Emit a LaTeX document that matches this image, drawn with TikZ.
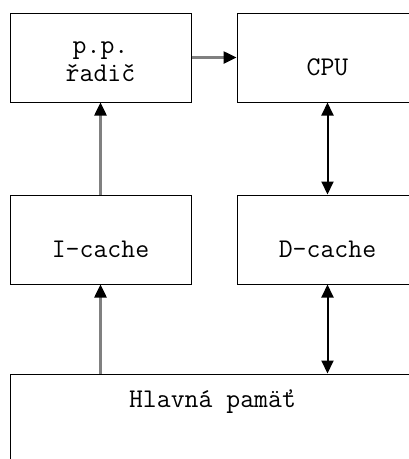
\documentclass[tikz,border=0pt]{standalone}
\usepackage{fontspec}
\usetikzlibrary{shapes.geometric, arrows.meta, positioning}

\begin{document}
\begin{tikzpicture}[
    node distance=45pt,
    block/.style={rectangle, draw=black, line width=1pt, fill=white,
                  minimum width=181pt, minimum height=89pt, inner sep=0pt},
    lbl/.style={font=\ttfamily\fontsize{27}{28}\selectfont, align=center,
                anchor=center, inner sep=0pt},
    tip/.tip={Triangle[length=13pt, width=12pt, color=black, fill=black]},
    link/.style={line width=2.5pt, draw=gray},
    bus/.style={line width=2pt, draw=black}]
\useasboundingbox (0,0) rectangle (409pt,-459pt);
\clip (0,0) rectangle (409pt,-459pt);

\node[block, label={[lbl, yshift=-4pt]center:p.p.\\řadič}] (ctrl) at (100.5pt,-57.5pt) {};
\node[block, label={[lbl, yshift=-10pt]center:CPU}, right=of ctrl] (cpu) {};
\node[block, label={[lbl, yshift=-10pt]center:I-cache}, below=92pt of ctrl] (icache) {};
\node[block, label={[lbl, yshift=-10pt]center:D-cache}, below=92pt of cpu] (dcache) {};
\node[block, minimum width=405pt, minimum height=100pt,
      label={[lbl, yshift=-28pt]north:Hlavná pamäť},
      below right=89pt and 0pt of icache.south west] (mem) {};

\draw[link, -tip] (ctrl) -- (cpu);
\draw[link, -tip] (icache) -- (ctrl);
\draw[link, -tip] (mem.north -| icache.south) -- (icache);
\draw[bus, tip-tip] (cpu) -- (dcache);
\draw[bus, tip-tip] (mem.north -| dcache.south) -- (dcache);
\end{tikzpicture}
\end{document}
